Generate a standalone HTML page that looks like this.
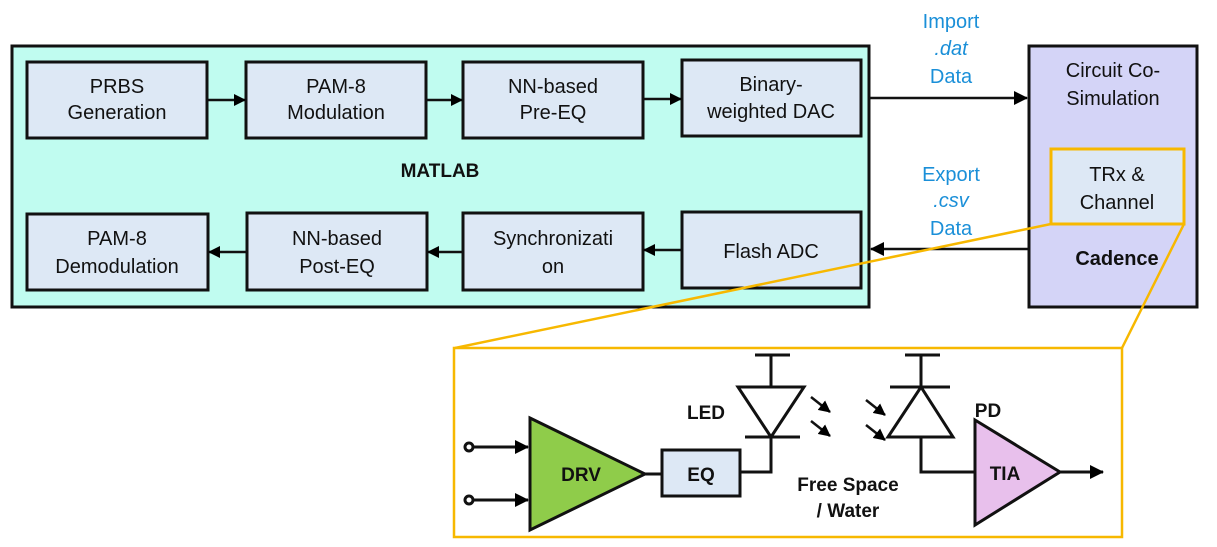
<!DOCTYPE html>
<html><head><meta charset="utf-8"><style>
html,body{margin:0;padding:0;background:#fff}
svg{display:block}
text{font-family:"Liberation Sans",Arial,sans-serif}
</style></head><body>
<svg width="1217" height="547" viewBox="0 0 1217 547" xmlns="http://www.w3.org/2000/svg">
<defs>
<marker id="ah" markerWidth="12" markerHeight="12" refX="11" refY="6" orient="auto" markerUnits="userSpaceOnUse"><path d="M0,0 L12,6 L0,12 z" fill="#000"/></marker>
<marker id="ab" markerWidth="14" markerHeight="14" refX="13" refY="7" orient="auto" markerUnits="userSpaceOnUse"><path d="M0,0 L14,7 L0,14 z" fill="#000"/></marker>
</defs>
<rect x="12" y="46" width="857" height="261" fill="#c0fcf0" stroke="#111" stroke-width="3"/>
<g fill="#dde8f5" stroke="#111" stroke-width="3">
<rect x="27" y="62" width="180" height="76"/>
<rect x="246" y="62" width="180" height="76"/>
<rect x="463" y="62" width="180" height="76"/>
<rect x="682" y="60" width="179" height="76"/>
<rect x="27" y="214" width="181" height="76"/>
<rect x="247" y="213" width="180" height="77"/>
<rect x="463" y="213" width="180" height="77"/>
<rect x="682" y="212" width="179" height="76"/>
</g>
<g stroke="#111" stroke-width="2.5" fill="none">
<line x1="207" y1="100" x2="245" y2="100" marker-end="url(#ah)"/>
<line x1="426" y1="100" x2="462" y2="100" marker-end="url(#ah)"/>
<line x1="643" y1="99" x2="681" y2="99" marker-end="url(#ah)"/>
<line x1="463" y1="252" x2="428" y2="252" marker-end="url(#ah)"/>
<line x1="247" y1="252" x2="209" y2="252" marker-end="url(#ah)"/>
<line x1="682" y1="250" x2="644" y2="250" marker-end="url(#ah)"/>
<line x1="869" y1="98" x2="1027" y2="98" marker-end="url(#ab)"/>
<line x1="1028" y1="249" x2="871" y2="249" marker-end="url(#ab)"/>
</g>
<g font-size="20" fill="#111" text-anchor="middle">
<text x="117" y="93">PRBS</text><text x="117" y="119">Generation</text>
<text x="336" y="93">PAM-8</text><text x="336" y="119">Modulation</text>
<text x="553" y="93">NN-based</text><text x="553" y="119">Pre-EQ</text>
<text x="771" y="91">Binary-</text><text x="771" y="118">weighted DAC</text>
<text x="117" y="245">PAM-8</text><text x="117" y="273">Demodulation</text>
<text x="337" y="245">NN-based</text><text x="337" y="273">Post-EQ</text>
<text x="553" y="245">Synchronizati</text><text x="553" y="273">on</text>
<text x="771" y="258">Flash ADC</text>
</g>
<text x="440" y="177" font-size="19" font-weight="bold" text-anchor="middle" fill="#111">MATLAB</text>
<g font-size="20" fill="#1a8fd8" text-anchor="middle">
<text x="951" y="28">Import</text><text x="951" y="55" font-style="italic">.dat</text><text x="951" y="83">Data</text>
<text x="951" y="181">Export</text><text x="951" y="207" font-style="italic">.csv</text><text x="951" y="235">Data</text>
</g>
<rect x="1029" y="46" width="168" height="261" fill="#d4d4f7" stroke="#111" stroke-width="3"/>
<rect x="1051" y="149" width="133" height="75" fill="#dde8f5" stroke="#f7b800" stroke-width="3"/>
<g font-size="20" fill="#111" text-anchor="middle">
<text x="1113" y="77">Circuit Co-</text><text x="1113" y="105">Simulation</text>
<text x="1117" y="181">TRx &amp;</text><text x="1117" y="209">Channel</text>
<text x="1117" y="265" font-weight="bold">Cadence</text>
</g>
<g stroke="#f7b800" stroke-width="2.5" fill="none">
<line x1="1051" y1="224" x2="455" y2="348"/>
<line x1="1184" y1="224" x2="1122" y2="348"/>
<rect x="454" y="348" width="668" height="189" fill="#fff"/>
</g>
<g stroke="#111" stroke-width="3" fill="none">
<circle cx="469" cy="447" r="4" fill="#fff"/>
<circle cx="469" cy="500" r="4" fill="#fff"/>
<line x1="473" y1="447" x2="528" y2="447" marker-end="url(#ab)"/>
<line x1="473" y1="500" x2="528" y2="500" marker-end="url(#ab)"/>
<polygon points="530,418 645,474 530,530" fill="#8fcc4a"/>
<line x1="645" y1="474" x2="662" y2="474"/>
<rect x="662" y="450" width="78" height="46" fill="#dde8f5"/>
<polyline points="740,472 771,472 771,437"/>
<polygon points="738,387 804,387 771,437"/>
<line x1="745" y1="437" x2="800" y2="437"/>
<line x1="771" y1="387" x2="771" y2="355"/>
<line x1="755" y1="355" x2="790" y2="355"/>
<line x1="921" y1="387" x2="921" y2="355"/>
<line x1="905" y1="355" x2="940" y2="355"/>
<polygon points="888,437 953,437 921,387"/>
<line x1="890" y1="387" x2="950" y2="387"/>
<polyline points="921,437 921,472 975,472"/>
<polygon points="975,420 1060,472 975,525" fill="#e8c0ec"/>
<line x1="1060" y1="472" x2="1103" y2="472" marker-end="url(#ab)"/>
</g>
<g stroke="#111" stroke-width="2.5">
<line x1="811" y1="397" x2="830" y2="412" marker-end="url(#ah)"/>
<line x1="811" y1="421" x2="830" y2="436" marker-end="url(#ah)"/>
<line x1="866" y1="400" x2="885" y2="415" marker-end="url(#ah)"/>
<line x1="866" y1="425" x2="885" y2="440" marker-end="url(#ah)"/>
</g>
<g font-size="19" font-weight="bold" fill="#111" text-anchor="middle">
<text x="706" y="419">LED</text>
<text x="988" y="417">PD</text>
<text x="581" y="481">DRV</text>
<text x="701" y="481">EQ</text>
<text x="1005" y="480">TIA</text>
<text x="848" y="491">Free Space</text>
<text x="848" y="517">/ Water</text>
</g>
</svg>
</body></html>
